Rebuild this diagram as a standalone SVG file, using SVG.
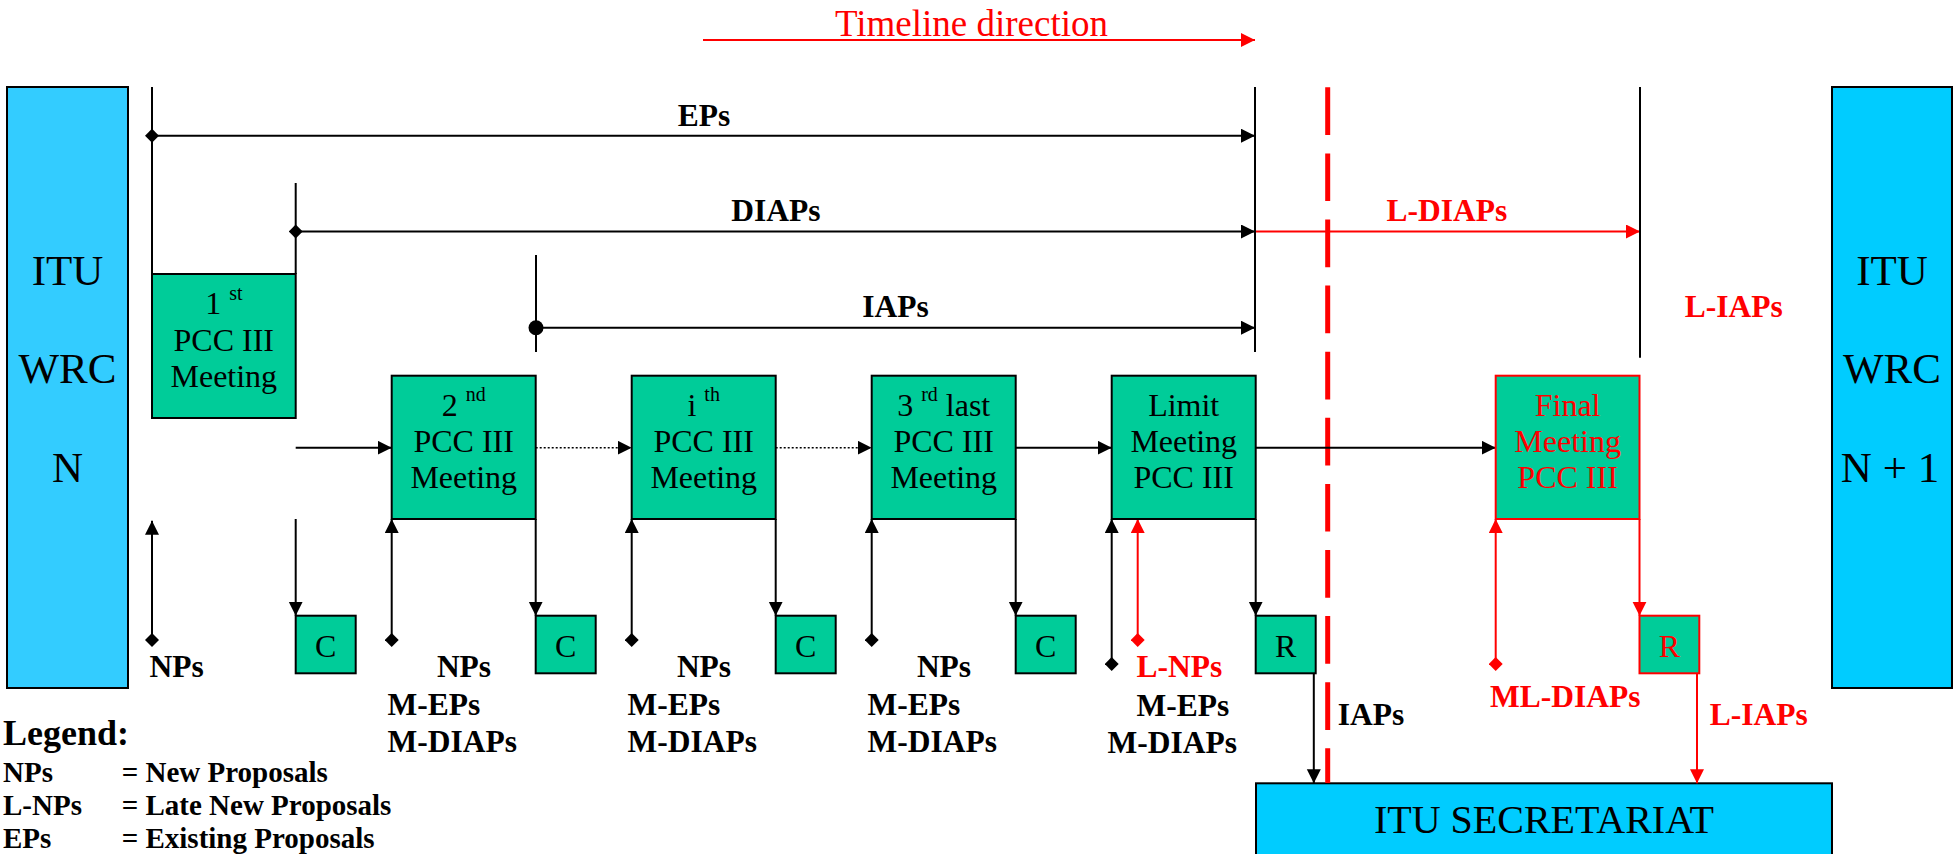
<svg xmlns="http://www.w3.org/2000/svg" width="1959" height="854" viewBox="0 0 1959 854">
<style>
text{font-family:"Liberation Serif","Times New Roman",serif;fill:#000}
.big{font-size:43px}
.bx{font-size:32px;text-anchor:middle}
.sup{font-size:20px}
.lbl{font-size:31.5px;font-weight:bold}
.mid{text-anchor:middle}
.leg{font-size:29px;font-weight:bold}
.red{fill:#FF0000}
.ln{stroke:#000;stroke-width:2;fill:none}
.rln{stroke:#FF0000;stroke-width:2;fill:none}
.mt{fill:#00CC99;stroke:#000;stroke-width:2}
.mtr{fill:#00CC99;stroke:#FF0000;stroke-width:2}
</style>
<defs>
<marker id="ah" markerUnits="userSpaceOnUse" markerWidth="15" markerHeight="15" refX="14" refY="7" orient="auto"><path d="M0,0 L14,7 L0,14 z" fill="#000"/></marker>
<marker id="ahr" markerUnits="userSpaceOnUse" markerWidth="15" markerHeight="15" refX="14" refY="7" orient="auto"><path d="M0,0 L14,7 L0,14 z" fill="#FF0000"/></marker>
<marker id="dm" markerUnits="userSpaceOnUse" markerWidth="15" markerHeight="15" refX="7" refY="7" orient="auto"><path d="M0,7 L7,0 L14,7 L7,14 z" fill="#000"/></marker>
<marker id="dmr" markerUnits="userSpaceOnUse" markerWidth="15" markerHeight="15" refX="7" refY="7" orient="auto"><path d="M0,7 L7,0 L14,7 L7,14 z" fill="#FF0000"/></marker>
<marker id="dot" markerUnits="userSpaceOnUse" markerWidth="16" markerHeight="16" refX="8" refY="8" orient="auto"><circle cx="8" cy="8" r="7.5" fill="#000"/></marker>
</defs>

<g id="itu-wrc-n">
<rect x="7" y="87" width="121" height="601" fill="#33CCFF" stroke="#000" stroke-width="2"/>
<text class="big mid" x="67.5" y="285">ITU</text>
<text class="big mid" x="67.5" y="383">WRC</text>
<text class="big mid" x="67.5" y="482">N</text>
</g>
<g id="itu-wrc-n1">
<rect x="1832" y="87" width="120" height="601" fill="#00CCFF" stroke="#000" stroke-width="2"/>
<text class="big mid" x="1892" y="285">ITU</text>
<text class="big mid" x="1892" y="383">WRC</text>
<text class="big mid" x="1890" y="482">N + 1</text>
</g>
<g id="itu-secretariat">
<rect x="1256" y="783.3" width="576" height="90" fill="#00CCFF" stroke="#000" stroke-width="2"/>
<text class="big mid" style="font-size:40px" x="1544" y="833">ITU SECRETARIAT</text>
</g>

<g id="timeline">
<text class="red mid" style="font-size:37px" x="971.5" y="35.7">Timeline direction</text>
</g>

<g id="connectors">
<line class="rln" x1="703" y1="40" x2="1255" y2="40" marker-end="url(#ahr)"/>
<line class="ln" x1="152" y1="87" x2="152" y2="274"/>
<line class="ln" x1="152" y1="135.7" x2="1255" y2="135.7" marker-start="url(#dm)" marker-end="url(#ah)"/>
<line class="ln" x1="295.7" y1="183" x2="295.7" y2="274"/>
<line class="ln" x1="295.7" y1="231.5" x2="1255" y2="231.5" marker-start="url(#dm)" marker-end="url(#ah)"/>
<line class="rln" x1="1255" y1="231.5" x2="1640" y2="231.5" marker-end="url(#ahr)"/>
<line class="ln" x1="536" y1="255" x2="536" y2="352"/>
<line class="ln" x1="536" y1="327.7" x2="1255" y2="327.7" marker-start="url(#dot)" marker-end="url(#ah)"/>
<line class="ln" x1="1255" y1="87" x2="1255" y2="352"/>
<line class="ln" x1="1640" y1="87" x2="1640" y2="357.7"/>
<line x1="1327.7" y1="87.3" x2="1327.7" y2="783" stroke="#FF0000" stroke-width="5" stroke-dasharray="47.7 18.4"/>

<line class="ln" x1="295.7" y1="447.7" x2="391.7" y2="447.7" marker-end="url(#ah)"/>
<line class="ln" x1="535.7" y1="447.7" x2="631.7" y2="447.7" stroke-dasharray="2 2" style="stroke-width:1.5" marker-end="url(#ah)"/>
<line class="ln" x1="775.7" y1="447.7" x2="871.7" y2="447.7" stroke-dasharray="2 2" style="stroke-width:1.5" marker-end="url(#ah)"/>
<line class="ln" x1="1015.7" y1="447.7" x2="1111.7" y2="447.7" marker-end="url(#ah)"/>
<line class="ln" x1="1255.7" y1="447.7" x2="1495.7" y2="447.7" marker-end="url(#ah)"/>

<line class="ln" x1="152" y1="640" x2="152" y2="520.7" marker-start="url(#dm)" marker-end="url(#ah)"/>
<line class="ln" x1="391.7" y1="640" x2="391.7" y2="519" marker-start="url(#dm)" marker-end="url(#ah)"/>
<line class="ln" x1="631.7" y1="640" x2="631.7" y2="519" marker-start="url(#dm)" marker-end="url(#ah)"/>
<line class="ln" x1="871.7" y1="640" x2="871.7" y2="519" marker-start="url(#dm)" marker-end="url(#ah)"/>
<line class="ln" x1="1111.7" y1="664" x2="1111.7" y2="519" marker-start="url(#dm)" marker-end="url(#ah)"/>
<line class="rln" x1="1137.7" y1="640" x2="1137.7" y2="519" marker-start="url(#dmr)" marker-end="url(#ahr)"/>
<line class="rln" x1="1495.7" y1="664" x2="1495.7" y2="519" marker-start="url(#dmr)" marker-end="url(#ahr)"/>

<line class="ln" x1="295.7" y1="519" x2="295.7" y2="615.7" marker-end="url(#ah)"/>
<line class="ln" x1="535.7" y1="519" x2="535.7" y2="615.7" marker-end="url(#ah)"/>
<line class="ln" x1="775.7" y1="519" x2="775.7" y2="615.7" marker-end="url(#ah)"/>
<line class="ln" x1="1015.7" y1="519" x2="1015.7" y2="615.7" marker-end="url(#ah)"/>
<line class="ln" x1="1255.7" y1="519" x2="1255.7" y2="615.7" marker-end="url(#ah)"/>
<line class="rln" x1="1639.5" y1="519" x2="1639.5" y2="615.7" marker-end="url(#ahr)"/>

<line class="ln" x1="1313.8" y1="673.3" x2="1313.8" y2="783.3" marker-end="url(#ah)"/>
<line class="rln" x1="1697" y1="673.3" x2="1697" y2="783.3" marker-end="url(#ahr)"/>
</g>

<g id="meeting-1">
<rect class="mt" x="152" y="274" width="143.7" height="144"/>
<text class="bx" x="223.8" y="314">1 <tspan class="sup" dy="-14">st</tspan></text>
<text class="bx" x="223.8" y="351">PCC III</text>
<text class="bx" x="223.8" y="387">Meeting</text>
</g>
<g id="meeting-2">
<rect class="mt" x="391.7" y="375.7" width="144" height="143.3"/>
<text class="bx" x="463.7" y="415.7">2 <tspan class="sup" dy="-14.7">nd</tspan></text>
<text class="bx" x="463.7" y="452.3">PCC III</text>
<text class="bx" x="463.7" y="488.3">Meeting</text>
</g>
<g id="meeting-i">
<rect class="mt" x="631.7" y="375.7" width="144" height="143.3"/>
<text class="bx" x="703.7" y="415.7">i <tspan class="sup" dy="-14.7">th</tspan></text>
<text class="bx" x="703.7" y="452.3">PCC III</text>
<text class="bx" x="703.7" y="488.3">Meeting</text>
</g>
<g id="meeting-3rd-last">
<rect class="mt" x="871.7" y="375.7" width="144" height="143.3"/>
<text class="bx" x="943.7" y="415.7">3 <tspan class="sup" dy="-14.7">rd</tspan><tspan dy="14.7"> last</tspan></text>
<text class="bx" x="943.7" y="452.3">PCC III</text>
<text class="bx" x="943.7" y="488.3">Meeting</text>
</g>
<g id="meeting-limit">
<rect class="mt" x="1111.7" y="375.7" width="144" height="143.3"/>
<text class="bx" x="1183.7" y="415.7">Limit</text>
<text class="bx" x="1183.7" y="452.3">Meeting</text>
<text class="bx" x="1183.7" y="488.3">PCC III</text>
</g>
<g id="meeting-final">
<rect class="mtr" x="1495.7" y="375.7" width="143.8" height="143.3"/>
<text class="bx red" x="1567.6" y="415.7">Final</text>
<text class="bx red" x="1567.6" y="452.3">Meeting</text>
<text class="bx red" x="1567.6" y="488.3">PCC III</text>
</g>

<g id="c1"><rect class="mt" x="295.7" y="615.7" width="60" height="57.6"/><text class="bx" x="325.7" y="656.7">C</text></g>
<g id="c2"><rect class="mt" x="535.7" y="615.7" width="60" height="57.6"/><text class="bx" x="565.7" y="656.7">C</text></g>
<g id="c3"><rect class="mt" x="775.7" y="615.7" width="60" height="57.6"/><text class="bx" x="805.7" y="656.7">C</text></g>
<g id="c4"><rect class="mt" x="1015.7" y="615.7" width="60" height="57.6"/><text class="bx" x="1045.7" y="656.7">C</text></g>
<g id="r1"><rect class="mt" x="1255.7" y="615.7" width="60" height="57.6"/><text class="bx" x="1285.7" y="656.7">R</text></g>
<g id="r2"><rect class="mtr" x="1639.5" y="615.7" width="59.8" height="57.6"/><text class="bx red" x="1669.4" y="656.7">R</text></g>

<g id="labels">
<text class="lbl mid" x="704" y="126">EPs</text>
<text class="lbl mid" x="776" y="221">DIAPs</text>
<text class="lbl mid" x="895.5" y="316.7">IAPs</text>
<text class="lbl mid red" x="1447" y="221">L-DIAPs</text>
<text class="lbl mid red" x="1733.8" y="316.7">L-IAPs</text>
<text class="lbl" x="149.5" y="677.3">NPs</text>
<text class="lbl mid" x="464" y="677.3">NPs</text>
<text class="lbl" x="387.5" y="715.3">M-EPs</text>
<text class="lbl" x="387.5" y="752.3">M-DIAPs</text>
<text class="lbl mid" x="704" y="677.3">NPs</text>
<text class="lbl" x="627.5" y="715.3">M-EPs</text>
<text class="lbl" x="627.5" y="752.3">M-DIAPs</text>
<text class="lbl mid" x="944" y="677.3">NPs</text>
<text class="lbl" x="867.5" y="715.3">M-EPs</text>
<text class="lbl" x="867.5" y="752.3">M-DIAPs</text>
<text class="lbl red" x="1136.6" y="677.3">L-NPs</text>
<text class="lbl" x="1136.6" y="716">M-EPs</text>
<text class="lbl" x="1107.6" y="753.3">M-DIAPs</text>
<text class="lbl" x="1337.8" y="725">IAPs</text>
<text class="lbl red" x="1490" y="707.3">ML-DIAPs</text>
<text class="lbl red" x="1709.8" y="725">L-IAPs</text>
</g>

<g id="legend">
<text class="leg" style="font-size:36px" x="3" y="745">Legend:</text>
<text class="leg" x="3" y="781.7">NPs</text>
<text class="leg" x="121.7" y="781.7">= New Proposals</text>
<text class="leg" x="3" y="815">L-NPs</text>
<text class="leg" x="121.7" y="815">= Late New Proposals</text>
<text class="leg" x="3" y="848.3">EPs</text>
<text class="leg" x="121.7" y="848.3">= Existing Proposals</text>
</g>
</svg>
